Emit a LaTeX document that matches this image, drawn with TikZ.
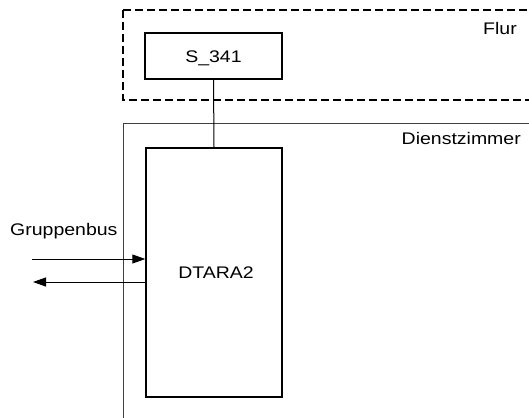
\documentclass[tikz,border=0pt]{standalone}
\usepackage{fontspec}
\setmainfont{Liberation Sans}[FakeStretch=1.16]
\usetikzlibrary{arrows.meta}
\tikzset{
  devbox/.style={draw=black, line width=1.4pt, fill=white, inner sep=0pt},
  roomdash/.style={draw=black, line width=1.8pt, dash pattern=on 8pt off 4pt},
  roomline/.style={draw=black!75, line width=1pt},
  txt/.style={inner sep=0pt, font=\fontsize{16.8}{20}\selectfont},
  wire/.style={draw=black, line width=1pt},
  bus/.style={draw=black, line width=1pt, -{Triangle[length=13pt,width=9pt]}}
}
\begin{document}
\begin{tikzpicture}[x=1pt,y=-1pt]
\useasboundingbox (0,0) rectangle (529,417);
\clip (0,0) rectangle (529,417);
% rooms
\draw[roomdash] (123,10) -- (540,10) (123,10) -- (123,100) -- (540,100);
\draw[roomline] (123,430) -- (123,123) -- (540,123);
\node[txt, anchor=base east] (flur) at (517,34.5) {Flur};
\node[txt, anchor=base east] (dz) at (521,144) {Dienstzimmer};
% devices
\node[devbox, minimum width=137pt, minimum height=46pt] (s341) at (213.5,56) {};
\node[txt, anchor=base] (s341t) at (213.5,63) {S\_341};
\node[devbox, minimum width=136pt, minimum height=249pt] (dtara) at (214,272.5) {};
\node[txt, anchor=base] (dtarat) at (216,278) {DTARA2};
\draw[wire] (s341.south) -- (dtara.north);
% bus
\node[txt, anchor=base west] (gb) at (10,235) {Gruppenbus};
\coordinate (busin) at (32,259);
\coordinate (busout) at (33,282);
\draw[bus] (busin) -- (busin -| dtara.west);
\draw[bus] (busout -| dtara.west) -- (busout);
\end{tikzpicture}
\end{document}
